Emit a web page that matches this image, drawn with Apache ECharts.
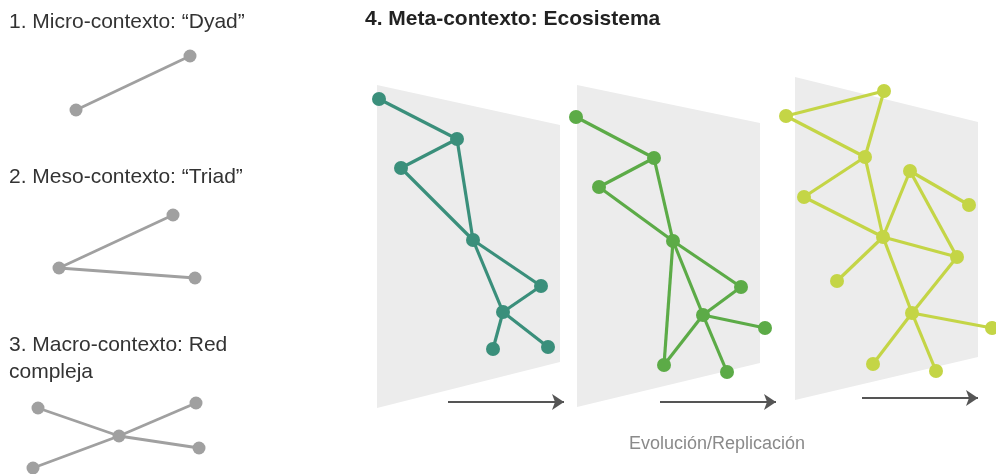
<!DOCTYPE html>
<html><head><meta charset="utf-8">
<script src="https://cdn.jsdelivr.net/npm/echarts@6/dist/echarts.min.js"></script>
<style>html,body{margin:0;padding:0;background:#fff}#c{width:996px;height:474px}</style>
</head><body><div id="c"></div>
<script>
// ---- data ----
var dyadNodes = [[76,110],[190,56]];
var dyadLinks = [[0,1]];
var triadNodes = [[59,268],[173,215],[195,278]];
var triadLinks = [[0,1],[0,2]];
var macroNodes = [[119,436],[38,408],[196,403],[199,448],[33,468]];
var macroLinks = [[0,1],[0,2],[0,3],[0,4]];

var eco1Nodes = [[379,99],[457,139],[401,168],[473,240],[541,286],[503,312],[493,349],[548,347]];
var eco1Links = [[0,1],[1,2],[1,3],[2,3],[3,4],[3,5],[4,5],[5,6],[5,7]];
var eco2Nodes = [[576,117],[654,158],[599,187],[673,241],[741,287],[703,315],[765,328],[664,365],[727,372]];
var eco2Links = [[0,1],[1,2],[1,3],[2,3],[3,4],[3,5],[3,7],[4,5],[5,6],[5,7],[5,8]];
var eco3Nodes = [[884,91],[786,116],[865,157],[910,171],[969,205],[804,197],[883,237],[957,257],[837,281],[912,313],[992,328],[873,364],[936,371]];
var eco3Links = [[0,1],[0,2],[1,2],[2,5],[2,6],[5,6],[6,3],[3,4],[3,7],[6,7],[6,8],[6,9],[7,9],[9,10],[9,11],[9,12]];

var panelShapes = [
  [[377,85],[560,125],[560,362],[377,408]],
  [[577,85],[760,123],[760,363],[577,407]],
  [[795,77],[978,122],[978,357],[795,400]]
];
var arrows = [[[448,402],[564,402]],[[660,402],[776,402]],[[862,398],[978,398]]];

var labels = [
  {text:'1. Micro-contexto: \u201cDyad\u201d', x:9, y:9},
  {text:'2. Meso-contexto: \u201cTriad\u201d', x:9, y:164},
  {text:'3. Macro-contexto: Red\ncompleja', x:9, y:332}
];
var mainTitle = '4. Meta-contexto: Ecosistema';
var axisLabel = 'Evoluci\u00f3n/Replicaci\u00f3n';

// ---- chart ----
var FONT = '"Liberation Sans", Arial, sans-serif';
function graph(nodes, links, color, size, width) {
  return {
    type:'graph', coordinateSystem:'cartesian2d', z:3,
    symbolSize:size, silent:true,
    itemStyle:{color:color},
    lineStyle:{color:color, width:width, opacity:1},
    data: nodes.map(function(p){return {value:p};}),
    links: links.map(function(l){return {source:l[0], target:l[1]};}),
    label:{show:false}, animation:false
  };
}
var chart = echarts.init(document.getElementById('c'), null, {renderer:'canvas'});
var titles = labels.map(function(l){
  return {text:l.text, left:l.x, top:l.y, padding:0,
    textStyle:{fontFamily:FONT, fontSize:21, fontWeight:'normal', color:'#333', lineHeight:27}};
});
titles.push({text:mainTitle, left:365, top:9, padding:0,
  textStyle:{fontFamily:FONT, fontSize:21, fontWeight:'bold', color:'#222'}});
titles.push({text:axisLabel, left:717, top:435, padding:0, textAlign:'center',
  textStyle:{fontFamily:FONT, fontSize:18, fontWeight:'normal', color:'#8a8a8a'}});

chart.setOption({
  animation:false,
  title: titles,
  grid:{left:0, right:0, top:0, bottom:0},
  xAxis:{type:'value', min:0, max:996, show:false},
  yAxis:{type:'value', min:0, max:474, inverse:true, show:false},
  series:[
    {
      type:'custom', z:1, silent:true,
      data: panelShapes.map(function(s,i){return [i];}),
      renderItem:function(params, api){
        var s = panelShapes[params.dataIndex];
        return {type:'polygon', shape:{points:s.map(function(p){return api.coord(p);})},
          style:{fill:'#ececec'}};
      }
    },
    {
      type:'lines', coordinateSystem:'cartesian2d', z:2, silent:true,
      symbol:['none','arrow'], symbolSize:[0,12],
      lineStyle:{color:'#555', width:2, opacity:1},
      data: arrows.map(function(a){return {coords:a};})
    },
    graph(dyadNodes, dyadLinks, '#a0a0a0', 13, 2.8),
    graph(triadNodes, triadLinks, '#a0a0a0', 13, 2.8),
    graph(macroNodes, macroLinks, '#a0a0a0', 13, 2.8),
    graph(eco1Nodes, eco1Links, '#3a8f7b', 14, 3.2),
    graph(eco2Nodes, eco2Links, '#5cab47', 14, 3.2),
    graph(eco3Nodes, eco3Links, '#c4d546', 14, 3.2)
  ]
});
</script></body></html>
